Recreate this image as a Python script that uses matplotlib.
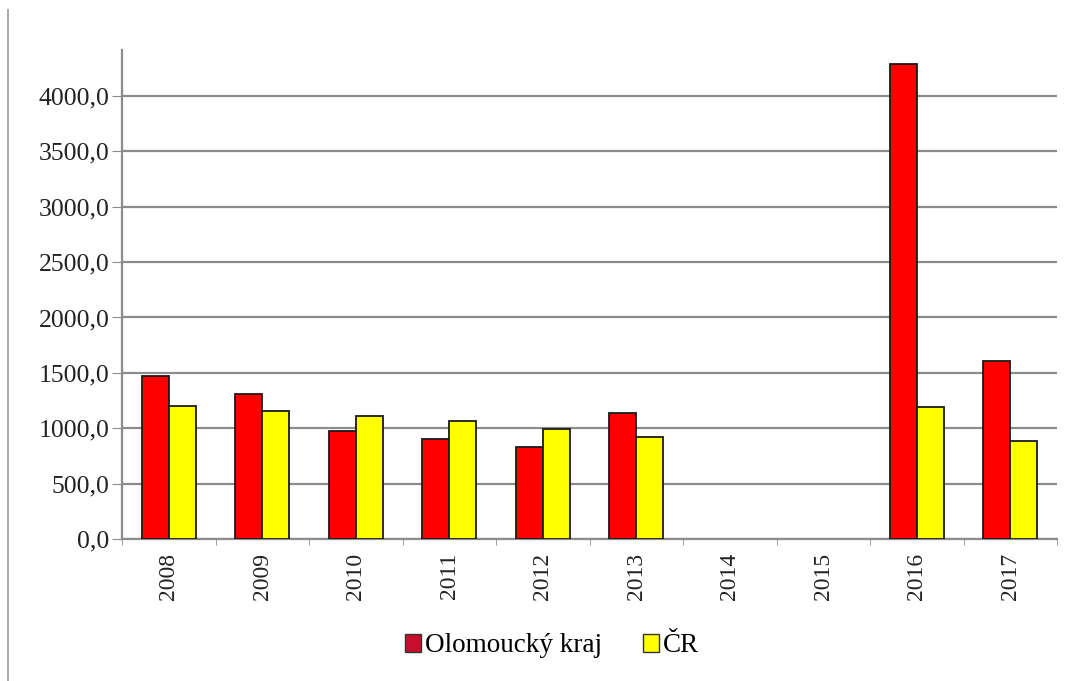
import numpy as np
import matplotlib
matplotlib.use("Agg")
import matplotlib.pyplot as plt
from matplotlib.lines import Line2D
from matplotlib.ticker import FuncFormatter

years = ["2008", "2009", "2010", "2011", "2012", "2013", "2014", "2015", "2016", "2017"]
olomoucky = [1470, 1310, 975, 905, 830, 1140, 0, 0, 4290, 1610]
cr = [1200, 1160, 1115, 1065, 990, 925, 0, 0, 1195, 885]
series_names = ["Olomoucký kraj", "ČR"]

plt.rcParams['font.family'] = ['Liberation Serif', 'DejaVu Serif']

fig = plt.figure(figsize=(10.75, 6.81), dpi=100)
ax = fig.add_axes([122 / 1075, 1 - 539 / 681, (1057 - 122) / 1075, (539 - 50) / 681])

x = np.arange(len(years))
w = 0.29
b1 = ax.bar(x - w / 2, olomoucky, w, color="#ff0000", edgecolor="#1a1a1a", linewidth=1.3, zorder=3)
b2 = ax.bar(x + w / 2, cr, w, color="#ffff00", edgecolor="#1a1a1a", linewidth=1.3, zorder=3)
# empty years: no outline
for p in list(b1) + list(b2):
    if p.get_height() == 0:
        p.set_linewidth(0)

ax.set_xlim(-0.5, len(years) - 0.5)
ax.set_ylim(0, 4415)
ax.set_yticks(np.arange(0, 4001, 500))
ax.yaxis.set_major_formatter(FuncFormatter(lambda v, p: f"{v:.1f}".replace(".", ",")))
ax.grid(axis="y", color="#8c8c8c", linewidth=1.6, zorder=0)

ax.set_xticks(x)
ax.set_xticklabels(years, rotation=90)
ax.set_xticks(np.arange(-0.5, len(years)), minor=True)
ax.tick_params(axis="x", which="major", length=0, pad=10, labelsize=17, colors="#222222")
ax.tick_params(axis="x", which="minor", length=4, color="#8c8c8c")
ax.tick_params(axis="y", length=7, color="#8c8c8c", labelsize=18.5, colors="#222222", pad=2)

for s in ["top", "right"]:
    ax.spines[s].set_visible(False)
for s in ["left", "bottom"]:
    ax.spines[s].set_color("#8c8c8c")
    ax.spines[s].set_linewidth(1.6)

# outer frame line on the left
fig.add_artist(Line2D([8 / 1075, 8 / 1075], [0, 1 - 10 / 681], color="#9a9a9a", linewidth=1.2))

handles = [plt.Rectangle((0, 0), 1, 1, facecolor="#c8102e", edgecolor="#333333"),
           plt.Rectangle((0, 0), 1, 1, facecolor="#ffff00", edgecolor="#333333")]
fig.legend(handles, series_names, loc="center", bbox_to_anchor=(552 / 1075, 1 - 646 / 681),
           ncol=2, frameon=False, fontsize=19.5, handlelength=0.6, handleheight=0.6,
           handletextpad=0.15, columnspacing=1.5)

fig.savefig("out.png", dpi=100)
